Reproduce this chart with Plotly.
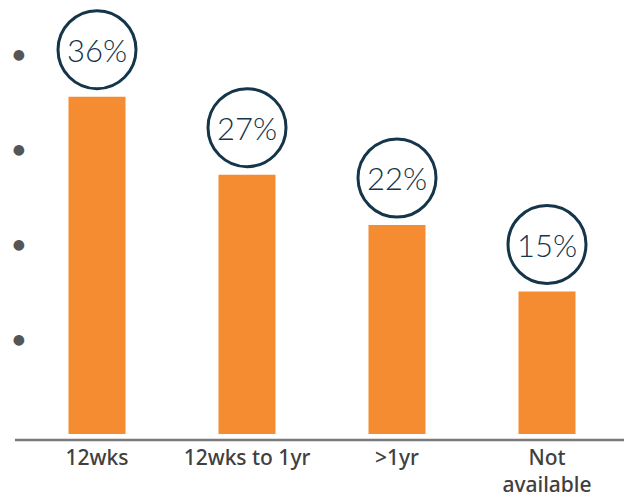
import plotly.graph_objects as go

categories = ["12wks", "12wks to 1yr", ">1yr", "Not<br>available"]
values = [35.5, 27.3, 22.0, 15.0]
labels = ["36%", "27%", "22%", "15%"]
ytick_vals = [10, 20, 30, 40]
ytick_text = ["●", "●", "●", "●"]

BAR = "#F58C31"
NAVY = "#15354A"

fig = go.Figure()
fig.add_trace(go.Bar(x=list(range(len(categories))), y=values, width=0.38,
                     marker=dict(color=BAR, line=dict(width=0)),
                     hoverinfo="skip"))

shapes = []
annotations = []
for i, (v, t) in enumerate(zip(values, labels)):
    shapes.append(dict(type="circle", xref="x", yref="y",
                       xsizemode="pixel", ysizemode="pixel",
                       xanchor=i, yanchor=v,
                       x0=-39, x1=39, y0=8, y1=86,
                       line=dict(color=NAVY, width=3), fillcolor="white"))
    annotations.append(dict(x=i, y=v, xref="x", yref="y", text=t,
                            showarrow=False, yshift=47,
                            font=dict(family="Lato, Open Sans, sans-serif", size=31,
                                      color=NAVY, weight=300)))

shapes.append(dict(type="line", xref="paper", yref="paper", x0=-0.0185, x1=1.01,
                   y0=0, y1=0, line=dict(color="#7A7A7A", width=2.5)))

fig.update_layout(
    width=624, height=498,
    margin=dict(l=26, r=2, t=0, b=58),
    paper_bgcolor="white", plot_bgcolor="white",
    showlegend=False,
    shapes=shapes, annotations=annotations,
    xaxis=dict(tickvals=list(range(len(categories))), ticktext=categories,
               range=[-0.4733, 3.5], showgrid=False, zeroline=False, showline=False,
               ticks="", automargin=False, ticklabelstandoff=3,
               tickfont=dict(family="Noto Sans, sans-serif", size=21, color="#404040", weight=500)),
    yaxis=dict(range=[-0.63, 45.68], tickvals=ytick_vals, ticktext=ytick_text,
               showgrid=False, zeroline=False, showline=False, ticks="",
               automargin=False, ticklabelstandoff=0,
               tickfont=dict(family="DejaVu Sans", size=14, color="#555555")),
)

fig.write_html("out.html", config={"displayModeBar": False},
               post_script="document.body.style.margin='0';")
